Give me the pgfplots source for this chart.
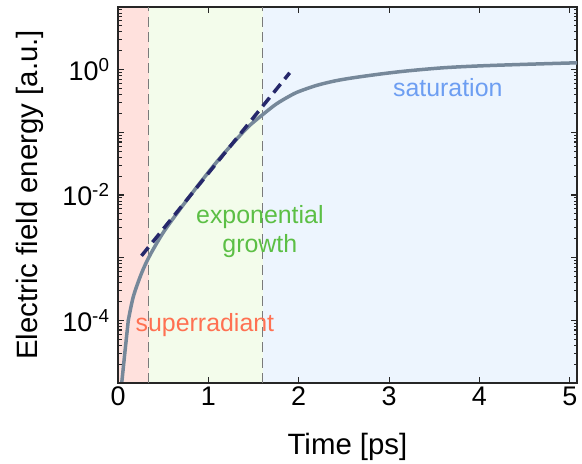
\documentclass[border=0pt]{standalone}
\usepackage{fontspec}
\setmainfont{Liberation Sans}
\usepackage{pgfplots}
\pgfplotsset{compat=1.18}
\definecolor{pinkbg}{HTML}{FFE1DD}
\definecolor{greenbg}{HTML}{F3FCEB}
\definecolor{bluebg}{HTML}{EDF5FE}
\definecolor{supcol}{HTML}{FF7152}
\definecolor{expcol}{HTML}{5CBF45}
\definecolor{satcol}{HTML}{6D9EF2}
\definecolor{curvecol}{HTML}{76889A}
\definecolor{navy}{HTML}{26286B}
\definecolor{sepgray}{HTML}{7A7A7A}
\tikzset{tk/.style={draw=black!85, line width=1.1bp}}
\begin{document}
\begin{tikzpicture}
\useasboundingbox (0,0) rectangle (582bp,464bp);
\begin{axis}[at={(118bp,81bp)}, anchor=south west,
  scale only axis, width=459bp, height=376bp,
  xmin=0, xmax=5.08, ymode=log, ymin=1e-5, ymax=10, hide axis]
\addplot[draw=none, fill=pinkbg] coordinates {(0,1e-5) (0.34,1e-5) (0.34,10) (0,10)} -- cycle;
\addplot[draw=none, fill=greenbg] coordinates {(0.34,1e-5) (1.6,1e-5) (1.6,10) (0.34,10)} -- cycle;
\addplot[draw=none, fill=bluebg] coordinates {(1.6,1e-5) (5.08,1e-5) (5.08,10) (1.6,10)} -- cycle;
\end{axis}
\begin{axis}[at={(118bp,81bp)}, anchor=south west,
  scale only axis, width=459bp, height=376bp,
  xmin=0, xmax=5.08, ymode=log, ymin=1e-5, ymax=10,
  xtick={0,1,2,3,4,5},
  ytick={1e-5,1e-4,1e-3,1e-2,1e-1,1,10},
  yticklabels={,10\textsuperscript{-4},,10\textsuperscript{-2},,10\textsuperscript{0},},
  minor ytick={2e-5,3e-5,4e-5,5e-5,6e-5,7e-5,8e-5,9e-5,
               2e-4,3e-4,4e-4,5e-4,6e-4,7e-4,8e-4,9e-4,
               2e-3,3e-3,4e-3,5e-3,6e-3,7e-3,8e-3,9e-3,
               2e-2,3e-2,4e-2,5e-2,6e-2,7e-2,8e-2,9e-2,
               2e-1,3e-1,4e-1,5e-1,6e-1,7e-1,8e-1,9e-1,
               2,3,4,5,6,7,8,9},
  tick align=inside,
  major tick length=6bp, minor tick length=3.5bp,
  every tick/.append style={draw=black!85, line width=1.1bp},
  axis line style={black!85, line width=1.1bp},
  ticklabel style={font=\fontsize{27}{30}\selectfont},
  yticklabel style={xshift=-5bp},
  /pgf/number format/assume math mode=true,
  xlabel={Time [ps]}, ylabel={Electric field energy [a.u.]},
  label style={font=\fontsize{29.5}{33}\selectfont},
  xlabel style={at={(axis description cs:0.5,-0.17)}, anchor=center},
  ylabel style={at={(axis description cs:-0.1917,0.5)}, anchor=center},
]
\addplot[sepgray, line width=1.3bp, dash pattern=on 10bp off 5.5bp] coordinates {(0.34,1e-5) (0.34,10)};
\addplot[sepgray, line width=1.3bp, dash pattern=on 10bp off 5.5bp] coordinates {(1.6,1e-5) (1.6,10)};
\addplot[curvecol, line width=3.5bp, line cap=round] coordinates {(0.038,9e-6) (0.077,3.16e-5) (0.114,1e-4)};
\addplot[curvecol, line width=3.5bp, line cap=round, smooth, tension=0.5] coordinates {
 (0.114,1e-4) (0.17,2.40e-4) (0.26,5.62e-4) (0.35,1.07e-3) (0.5,2.51e-3)
 (0.69,6.03e-3) (0.9,0.0151) (1.1,0.0347) (1.3,0.0741) (1.45,0.126)
 (1.6,0.191) (1.75,0.282) (1.9,0.380) (2.0,0.447) (2.2,0.562) (2.4,0.661)
 (2.6,0.741) (2.9,0.851) (3.2,0.955) (3.6,1.072) (4.0,1.148) (4.5,1.216) (5.08,1.288)};
\addplot[navy, line width=3.5bp, dash pattern=on 11bp off 6.5bp] coordinates {(0.26,1.07e-3) (1.90,0.89)};
\pgfplotsinvokeforeach{0,1,2,3,4,5}{
  \draw[tk] (axis cs:#1,1e-5) -- ++(0pt,6bp);
  \draw[tk] (axis cs:#1,10) -- ++(0pt,-6bp);
}
\pgfplotsinvokeforeach{1e-5,1e-4,1e-3,1e-2,1e-1,1,10}{
  \draw[tk] (axis cs:0,#1) -- ++(6bp,0pt);
  \draw[tk] (axis cs:5.08,#1) -- ++(-6bp,0pt);
}
\pgfplotsinvokeforeach{2e-5,3e-5,4e-5,5e-5,6e-5,7e-5,8e-5,9e-5,
               2e-4,3e-4,4e-4,5e-4,6e-4,7e-4,8e-4,9e-4,
               2e-3,3e-3,4e-3,5e-3,6e-3,7e-3,8e-3,9e-3,
               2e-2,3e-2,4e-2,5e-2,6e-2,7e-2,8e-2,9e-2,
               2e-1,3e-1,4e-1,5e-1,6e-1,7e-1,8e-1,9e-1,
               2,3,4,5,6,7,8,9}{
  \draw[tk] (axis cs:0,#1) -- ++(3.5bp,0pt);
  \draw[tk] (axis cs:5.08,#1) -- ++(-3.5bp,0pt);
}
\node[font=\fontsize{25}{29}\selectfont, text=supcol] at (axis cs:0.962,8.3e-5) {superradiant};
\node[font=\fontsize{25}{29}\selectfont, text=expcol, align=center] at (axis cs:1.57,2.57e-3) {exponential\\growth};
\node[font=\fontsize{25}{29}\selectfont, text=satcol] at (axis cs:3.65,0.518) {saturation};
\end{axis}
\end{tikzpicture}
\end{document}
